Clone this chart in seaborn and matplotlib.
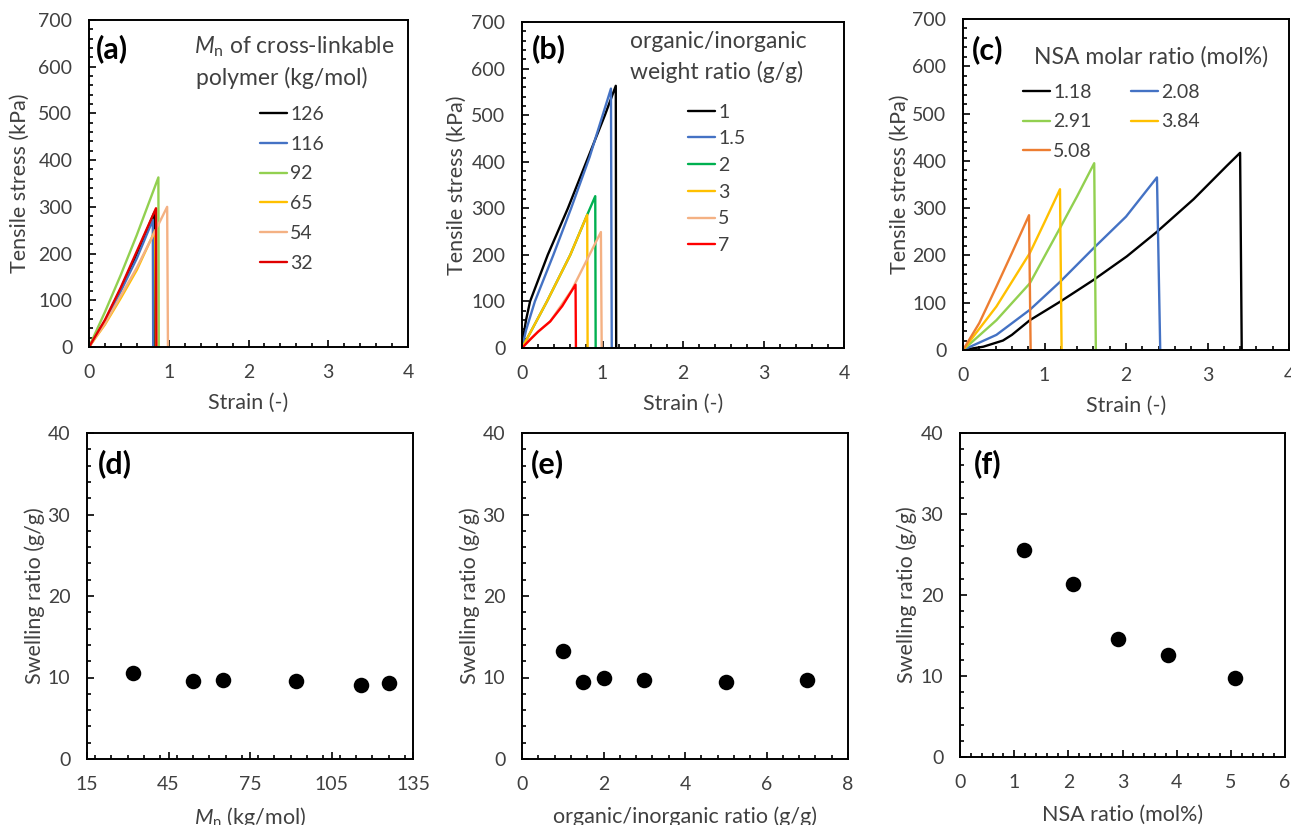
import numpy as np
import pandas as pd
import matplotlib
matplotlib.use("Agg")
import matplotlib.pyplot as plt
import seaborn as sns
from matplotlib.ticker import MultipleLocator

# ---------------- data ----------------
a_labels = ["126", "116", "92", "65", "54", "32"]
a_colors = ["#000000", "#4472C4", "#92D050", "#FFC000", "#F4B183", "#E00000"]
a_strain = [
    [0, 0.2, 0.4, 0.6, 0.82, 0.825],
    [0, 0.2, 0.4, 0.6, 0.80, 0.805],
    [0, 0.2, 0.4, 0.6, 0.87, 0.875],
    [0, 0.2, 0.4, 0.6, 0.83, 0.84],
    [0, 0.2, 0.4, 0.6, 0.85, 0.98, 0.99],
    [0, 0.2, 0.4, 0.6, 0.84, 0.845],
]
a_stress = [
    [0, 55, 125, 200, 288, 0],
    [0, 55, 120, 190, 272, 0],
    [0, 75, 155, 240, 363, 0],
    [0, 48, 105, 165, 250, 0],
    [0, 50, 110, 170, 255, 300, 0],
    [0, 58, 128, 205, 297, 0],
]

b_labels = ["1", "1.5", "2", "3", "5", "7"]
b_colors = ["#000000", "#4472C4", "#00B050", "#FFC000", "#F4B183", "#FF0000"]
b_strain = [
    [0, 0.02, 0.05, 0.1, 0.32, 0.57, 0.80, 1.03, 1.165, 1.17],
    [0, 0.05, 0.16, 0.39, 0.61, 0.84, 1.105, 1.115],
    [0, 0.14, 0.31, 0.60, 0.81, 0.91, 0.915],
    [0, 0.14, 0.31, 0.60, 0.81, 0.815],
    [0, 0.1, 0.2, 0.35, 0.62, 0.98, 0.99],
    [0, 0.1, 0.2, 0.35, 0.50, 0.665, 0.67],
]
b_stress = [
    [0, 28, 60, 100, 200, 300, 400, 500, 563, 0],
    [0, 38, 100, 200, 300, 410, 557, 0],
    [0, 45, 100, 200, 286, 326, 0],
    [0, 45, 100, 200, 286, 0],
    [0, 18, 35, 57, 125, 249, 0],
    [0, 18, 35, 57, 90, 136, 0],
]

c_labels = ["1.18", "2.08", "2.91", "3.84", "5.08"]
c_colors = ["#000000", "#4472C4", "#92D050", "#FFC000", "#ED7D31"]
c_strain = [
    [0, 0.25, 0.49, 0.60, 0.82, 1.19, 1.60, 2.01, 2.38, 2.83, 3.24, 3.40, 3.42],
    [0, 0.41, 0.82, 1.19, 1.60, 2.00, 2.38, 2.42],
    [0, 0.41, 0.82, 1.19, 1.40, 1.61, 1.63],
    [0, 0.41, 0.82, 1.00, 1.19, 1.21],
    [0, 0.20, 0.41, 0.60, 0.81, 0.83],
]
c_stress = [
    [0, 7, 20, 32, 63, 102, 148, 198, 250, 319, 390, 417, 0],
    [0, 32, 85, 144, 215, 282, 365, 0],
    [0, 63, 141, 258, 325, 395, 0],
    [0, 92, 205, 270, 340, 0],
    [0, 57, 134, 205, 285, 0],
]

d_mn = [32, 54, 65, 92, 116, 126]
d_swelling = [10.5, 9.6, 9.7, 9.6, 9.1, 9.3]
e_ratio = [1, 1.5, 2, 3, 5, 7]
e_swelling = [13.3, 9.4, 9.9, 9.7, 9.4, 9.7]
f_nsa = [1.18, 2.08, 2.91, 3.84, 5.08]
f_swelling = [25.5, 21.4, 14.6, 12.6, 9.75]

# ---------------- style ----------------
sns.set_theme(style="white")
plt.rcParams["font.family"] = ["Lato", "DejaVu Sans"]
plt.rcParams["mathtext.fontset"] = "custom"
plt.rcParams["mathtext.rm"] = "Lato"
plt.rcParams["mathtext.it"] = "Lato:italic"
TXT = "#404040"
TICK_FS = 14
LAB_FS = 15.5
TITLE_FS = 16.5
LEG_FS = 14
PANEL_FS = 22

fig = plt.figure(figsize=(12.91, 8.25), dpi=100)
W, H = 1291, 825


def add_ax(l, t, r, b):
    return fig.add_axes([l / W, 1 - b / H, (r - l) / W, (b - t) / H])


def style_ax(ax, xloc, xmin, ymaj, ymin):
    ax.xaxis.set_major_locator(xloc)
    ax.xaxis.set_minor_locator(MultipleLocator(xmin))
    ax.yaxis.set_major_locator(MultipleLocator(ymaj))
    ax.yaxis.set_minor_locator(MultipleLocator(ymin))
    ax.tick_params(which="both", direction="in", top=False, right=False,
                   bottom=True, left=True, color="black", width=1.2,
                   labelcolor=TXT, labelsize=TICK_FS, pad=12)
    ax.tick_params(which="major", length=5)
    ax.tick_params(which="minor", length=3)
    for s in ax.spines.values():
        s.set_color("black")
        s.set_linewidth(1.4)
        s.set_visible(True)
    ax.grid(False)


def long_df(labels, xs, ys):
    rows = []
    for lab, xx, yy in zip(labels, xs, ys):
        for x, y in zip(xx, yy):
            rows.append((lab, x, y))
    return pd.DataFrame(rows, columns=["series", "strain", "stress"])


def curve_panel(ax, labels, colors, xs, ys):
    df = long_df(labels, xs, ys)
    sns.lineplot(data=df, x="strain", y="stress", hue="series",
                 hue_order=labels, palette=colors, sort=False,
                 estimator=None, linewidth=1.7, legend=False, ax=ax)
    ax.set_xlim(0, 4)
    ax.set_ylim(0, 700)
    style_ax(ax, MultipleLocator(1), 0.2, 100, 20)
    ax.set_xlabel("Strain (-)", fontsize=LAB_FS, color=TXT)
    ax.set_ylabel("Tensile stress (kPa)", fontsize=LAB_FS, color=TXT)
    return ax.get_lines()[:len(labels)]


def scatter_panel(ax, x, y, xlim, xloc, xmin, xlabel):
    sns.scatterplot(x=x, y=y, color="black", s=125, edgecolor="black",
                    linewidth=0, ax=ax, zorder=3)
    ax.set_xlim(*xlim)
    ax.set_ylim(0, 40)
    style_ax(ax, xloc, xmin, 10, 2)
    ax.set_xlabel(xlabel, fontsize=LAB_FS, color=TXT)
    ax.set_ylabel("Swelling ratio (g/g)", fontsize=LAB_FS, color=TXT)


def panel_label(ax, x, y, s):
    ax.text(x, y, s, transform=ax.transAxes, fontsize=PANEL_FS,
            fontweight="bold", ha="left", va="center", color="black")


def title_text(ax, x, y, s):
    ax.text(x, y, s, transform=ax.transAxes, fontsize=TITLE_FS,
            ha="left", va="center", color=TXT)


# ---------------- (a) ----------------
axa = add_ax(89, 20, 408, 347)
ha = curve_panel(axa, a_labels, a_colors, a_strain, a_stress)
panel_label(axa, 0.022, 0.912, "(a)")
title_text(axa, 0.33, 0.917, r"$M_\mathrm{n}$ of cross-linkable")
title_text(axa, 0.335, 0.823, "polymer (kg/mol)")
axa.legend(ha, a_labels, loc="upper left", bbox_to_anchor=(0.536, 0.738),
           frameon=False, fontsize=LEG_FS, handlelength=1.4, handletextpad=0.15,
           labelspacing=0.66, borderpad=0, borderaxespad=0, labelcolor=TXT)

# ---------------- (b) ----------------
axb = add_ax(522, 22, 844, 348)
hb = curve_panel(axb, b_labels, b_colors, b_strain, b_stress)
panel_label(axb, 0.03, 0.918, "(b)")
title_text(axb, 0.335, 0.939, "organic/inorganic")
title_text(axb, 0.335, 0.847, "weight ratio (g/g)")
axb.legend(hb, b_labels, loc="upper left", bbox_to_anchor=(0.516, 0.75),
           frameon=False, fontsize=LEG_FS, handlelength=1.4, handletextpad=0.15,
           labelspacing=0.5, borderpad=0, borderaxespad=0, labelcolor=TXT)

# ---------------- (c) ----------------
axc = add_ax(963, 19, 1289, 350)
hc = curve_panel(axc, c_labels, c_colors, c_strain, c_stress)
panel_label(axc, 0.028, 0.908, "(c)")
title_text(axc, 0.218, 0.885, "NSA molar ratio (mol%)")
# row-major order (matplotlib fills legend columns first)
c_order = [0, 2, 4, 1, 3]
axc.legend([hc[i] for i in c_order], [c_labels[i] for i in c_order],
           loc="upper left", bbox_to_anchor=(0.184, 0.804),
           ncol=2, frameon=False, fontsize=LEG_FS, handlelength=1.4,
           handletextpad=0.15, labelspacing=0.64, columnspacing=2.0,
           borderpad=0, borderaxespad=0, labelcolor=TXT)

# ---------------- (d) (e) (f) ----------------
axd = add_ax(87, 433, 413, 759)
scatter_panel(axd, d_mn, d_swelling, (15, 135), MultipleLocator(30, offset=15), 6,
              r"$M_\mathrm{n}$ (kg/mol)")
panel_label(axd, 0.034, 0.905, "(d)")

axe = add_ax(522, 433, 848, 759)
scatter_panel(axe, e_ratio, e_swelling, (0, 8), MultipleLocator(2), 0.4,
              "organic/inorganic ratio (g/g)")
panel_label(axe, 0.028, 0.905, "(e)")

axf = add_ax(960, 433, 1285, 757)
scatter_panel(axf, f_nsa, f_swelling, (0, 6), MultipleLocator(1), 0.2,
              "NSA ratio (mol%)")
panel_label(axf, 0.044, 0.905, "(f)")

# label placement
for ax, dx in ((axa, 69), (axb, 65), (axc, 63)):
    bb = ax.get_position()
    ax.yaxis.set_label_coords(-dx / (bb.width * W), 0.5)
    ax.xaxis.set_label_coords(0.5, -56 / (bb.height * H))
for ax, dx in ((axd, 52), (axe, 52), (axf, 53)):
    bb = ax.get_position()
    ax.yaxis.set_label_coords(-dx / (bb.width * W), 0.5)
    ax.xaxis.set_label_coords(0.5, -58 / (bb.height * H))
for ax in (axa, axb, axc, axd, axe, axf):
    ax.yaxis.label.set_verticalalignment("center")
    ax.xaxis.label.set_verticalalignment("center")

fig.savefig("out.png", dpi=100, facecolor="white")
